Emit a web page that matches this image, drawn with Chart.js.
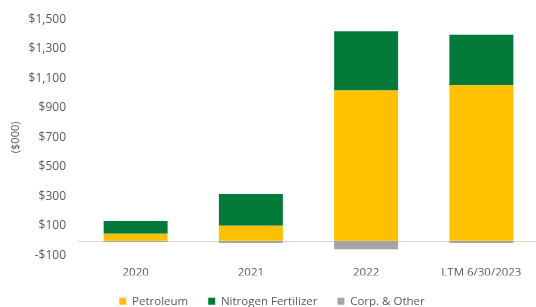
<!DOCTYPE html>
<html>
<head>
<meta charset="utf-8">
<script src="https://cdn.jsdelivr.net/npm/chart.js@4/dist/chart.umd.min.js"></script>
<style>
  html, body { margin: 0; padding: 0; background: #fff; overflow: hidden; }
  #wrap { width: 545px; height: 317px; }
</style>
</head>
<body>
<div id="wrap"><canvas id="chart"></canvas></div>
<script>
// ── Data ($000) ─────────────────────────────────────
const categories = ['2020', '2021', '2022', 'LTM 6/30/2023'];
const petroleum  = [48, 101, 1018, 1052];
const nitrogen   = [85, 215, 400, 343];
const corpOther  = [-8, -15, -57, -16];
const yTicks     = [-100, 100, 300, 500, 700, 900, 1100, 1300, 1500];

const fontFamily = "'Open Sans', 'Liberation Sans', sans-serif";
Chart.defaults.font.family = fontFamily;
Chart.defaults.color = '#595959';

new Chart(document.getElementById('chart'), {
  type: 'bar',
  data: {
    labels: categories,
    datasets: [
      { label: 'Petroleum', data: petroleum, backgroundColor: '#FFC000' },
      { label: 'Nitrogen Fertilizer', data: nitrogen, backgroundColor: '#037A3A' },
      { label: 'Corp. & Other', data: corpOther, backgroundColor: '#A5A5A5' }
    ]
  },
  options: {
    responsive: true,
    maintainAspectRatio: false,
    animation: false,
    layout: { padding: { left: 5, top: 18, bottom: 0, right: 6 } },
    datasets: { bar: { categoryPercentage: 1, barPercentage: 0.555 } },
    plugins: {
      legend: {
        position: 'bottom',
        labels: { boxWidth: 7, boxHeight: 7, padding: 20, font: { size: 11.5 }, color: '#595959' }
      },
      tooltip: { enabled: false }
    },
    scales: {
      x: {
        stacked: true,
        grid: { display: false, drawTicks: false },
        border: { display: false },
        ticks: { font: { size: 11.5 }, padding: 10 },
        afterFit: s => { s.height = 20; }
      },
      y: {
        stacked: true,
        min: -100,
        max: 1500,
        afterBuildTicks: axis => { axis.ticks = yTicks.map(v => ({ value: v })); },
        grid: { display: false, drawTicks: false },
        border: { display: false },
        title: { display: true, text: '($000)', font: { size: 11 }, padding: { top: 4, bottom: 0 } },
        ticks: {
          font: { size: 12 },
          padding: 12,
          callback: v => (v < 0 ? '-$' : '$') + Math.abs(v).toLocaleString('en-US')
        },
        afterFit: s => { s.width = 73; }
      }
    }
  },
  plugins: [{
    // draw the zero baseline (zero is not one of the printed ticks)
    id: 'zeroLine',
    beforeDatasetsDraw(chart) {
      const { ctx, chartArea, scales } = chart;
      const y = Math.round(scales.y.getPixelForValue(0)) + 0.5;
      ctx.save();
      ctx.strokeStyle = '#D9D9D9';
      ctx.lineWidth = 1;
      ctx.beginPath();
      ctx.moveTo(chartArea.left, y);
      ctx.lineTo(chartArea.right, y);
      ctx.stroke();
      ctx.restore();
    }
  }]
});
</script>
</body>
</html>
